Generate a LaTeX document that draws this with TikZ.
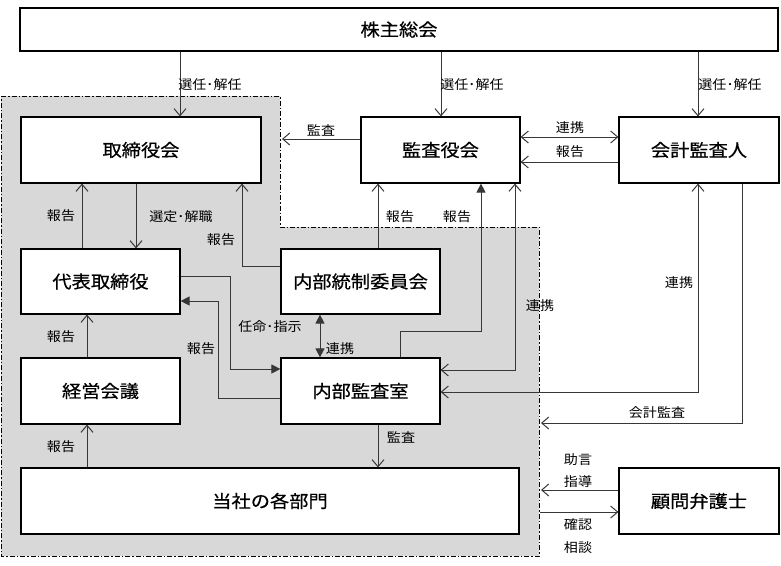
\documentclass[tikz,border=0pt]{standalone}
\usepackage{fontspec}
\newfontfamily\jp[FakeStretch=1.08]{Noto Sans CJK JP}
\newfontfamily\jpbox[FakeStretch=1.1,FakeBold=0.5]{Noto Sans CJK JP}
\usetikzlibrary{arrows.meta}
\definecolor{regiongray}{RGB}{216,216,216}
\definecolor{linegray}{RGB}{55,55,55}
\tikzset{
  box/.style={draw=black, line width=1.2pt, fill=white, inner sep=0pt,
    font=\jpbox\fontsize{17.5}{20}\selectfont},
  lab/.style={font=\jp\fontsize{13}{15}\selectfont, inner sep=0pt, text=black},
  conn/.style={draw=linegray, line width=1pt},
  oa/.style={conn, -{Straight Barb[length=7pt,width=12pt]}},
  oab/.style={conn, {Straight Barb[length=7pt,width=12pt]}-{Straight Barb[length=7pt,width=12pt]}},
  fa/.style={conn, -{Triangle[length=9pt,width=9pt]}},
  fab/.style={conn, {Triangle[length=9pt,width=9pt]}-{Triangle[length=9pt,width=9pt]}},
  region/.style={fill=regiongray, draw=black, line width=1pt,
    dash pattern=on 5pt off 2pt on 1.5pt off 2pt},
}
\begin{document}
\begin{tikzpicture}[x=1pt,y=-1pt]
\useasboundingbox (0,0) rectangle (781,565);
% shaded region
\draw[region] (1,96) -- (280,96) -- (280,227) -- (539,227) -- (539,556) -- (1,556) -- cycle;

% boxes
\node[box, minimum width=758pt, minimum height=43pt] (kabu) at (399,29.5) {株主総会};
\node[box, minimum width=240pt, minimum height=66pt] (tori) at (141,150) {取締役会};
\node[box, minimum width=159pt, minimum height=66pt] (kansa) at (440.5,150) {監査役会};
\node[box, minimum width=160pt, minimum height=66pt] (kaikei) at (699,150) {会計監査人};
\node[box, minimum width=159pt, minimum height=65pt] (daihyo) at (100.5,281.5) {代表取締役};
\node[box, minimum width=159pt, minimum height=65pt] (tousei) at (360.5,281.5) {内部統制委員会};
\node[box, minimum width=159pt, minimum height=66pt] (keiei) at (100.5,391) {経営会議};
\node[box, minimum width=159pt, minimum height=66pt] (nk) at (360.5,391) {内部監査室};
\node[box, minimum width=498pt, minimum height=66pt] (kakubu) at (270,501) {当社の各部門};
\node[box, minimum width=160pt, minimum height=66pt] (komon) at (699,501) {顧問弁護士};

% helper coordinates
\coordinate (x180) at (180,0);
\coordinate (x441) at (441,0);
\coordinate (x698) at (698,0);
\coordinate (g4) at (282,139);
\coordinate (y137) at (0,137);
\coordinate (y162) at (0,162);
\coordinate (x82) at (82,0);
\coordinate (x136) at (136,0);
\coordinate (p9) at (242,266);
\coordinate (x378) at (378,0);
\coordinate (p11a) at (400,331);
\coordinate (p11b) at (481,331);
\coordinate (p12) at (515,370);
\coordinate (p13) at (698,392);
\coordinate (p14) at (742,423);
\coordinate (g14) at (541,423);
\coordinate (g15) at (541,490);
\coordinate (g16) at (540,512);
\coordinate (p17a) at (230,276);
\coordinate (p17b) at (230,369);
\coordinate (p18a) at (218,398);
\coordinate (p18b) at (218,301);
\coordinate (x320) at (320,0);
\coordinate (x87) at (87,0);

% connectors
\draw[oa] (kabu.south -| x180) -- (tori.north -| x180);
\draw[oa] (kabu.south -| x441) -- (kansa.north -| x441);
\draw[oa] (kabu.south -| x698) -- (kaikei.north -| x698);
\draw[oa] (kansa.west |- g4) -- (g4);
\draw[oab] (kansa.east |- y137) -- (kaikei.west |- y137);
\draw[oa] (kaikei.west |- y162) -- (kansa.east |- y162);
\draw[oa] (daihyo.north -| x82) -- (tori.south -| x82);
\draw[oa] (tori.south -| x136) -- (daihyo.north -| x136);
\draw[oa] (tousei.west |- p9) -- (p9) -- (tori.south -| p9);
\draw[oa] (tousei.north -| x378) -- (kansa.south -| x378);
\draw[fa] (nk.north -| p11a) -- (p11a) -- (p11b) -- (kansa.south -| p11b);
\draw[oab] (kansa.south -| p12) -- (p12) -- (nk.east |- p12);
\draw[oab] (kaikei.south -| p13) -- (p13) -- (nk.east |- p13);
\draw[oa] (kaikei.south -| p14) -- (p14) -- (g14);
\draw[oa] (komon.west |- g15) -- (g15);
\draw[oa] (g16) -- (komon.west |- g16);
\draw[fa] (daihyo.east |- p17a) -- (p17a) -- (p17b) -- (nk.west |- p17b);
\draw[fa] (nk.west |- p18a) -- (p18a) -- (p18b) -- (daihyo.east |- p18b);
\draw[fab] (tousei.south -| x320) -- (nk.north -| x320);
\draw[oa] (keiei.north -| x87) -- (daihyo.south -| x87);
\draw[oa] (kakubu.north -| x87) -- (keiei.south -| x87);
\draw[oa] (nk.south -| x378) -- (kakubu.north -| x378);

% labels
\node[lab] (l1) at (210,85) {選任･解任};
\node[lab] (l2) at (472,85) {選任･解任};
\node[lab] (l3) at (730,85) {選任･解任};
\node[lab] (l4) at (321,130) {監査};
\node[lab] (l5) at (570,128) {連携};
\node[lab] (l6) at (570,152) {報告};
\node[lab] (l7) at (61,216) {報告};
\node[lab] (l8) at (181,217) {選定･解職};
\node[lab] (l9) at (221,240) {報告};
\node[lab] (l10) at (400,217) {報告};
\node[lab] (l11) at (457,217) {報告};
\node[lab] (l12) at (540,306) {連携};
\node[lab] (l13) at (679,283) {連携};
\node[lab] (l14) at (657,413) {会計監査};
\node[lab] (l15) at (578,460) {助言};
\node[lab] (l16) at (578,482) {指導};
\node[lab] (l17) at (578,525) {確認};
\node[lab] (l18) at (578,548) {相談};
\node[lab] (l19) at (270,327) {任命･指示};
\node[lab] (l20) at (201,349) {報告};
\node[lab] (l21) at (340,349) {連携};
\node[lab] (l22) at (61,337) {報告};
\node[lab] (l23) at (61,447) {報告};
\node[lab] (l24) at (401,437) {監査};
\end{tikzpicture}
\end{document}
